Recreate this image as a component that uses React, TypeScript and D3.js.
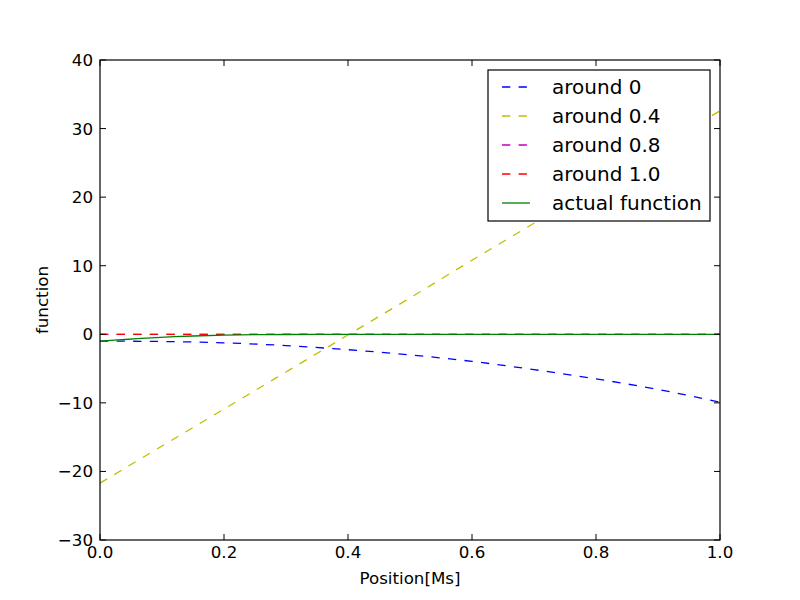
import { useEffect, useRef } from 'react';
import * as d3 from 'd3';

// sample positions for the Taylor curves
const xs = [0, 0.1, 0.2, 0.3, 0.4, 0.5, 0.6, 0.7, 0.8, 0.9, 1.0];
const around0 = [-1.0, -1.05, -1.25, -1.65, -2.25, -3.0, -3.95, -5.15, -6.5, -8.05, -9.9];
const around04 = [-21.7, -16.3, -10.9, -5.5, -0.1, 5.3, 10.8, 16.2, 21.6, 27.1, 32.6];
const around08 = [0, 0, 0, 0, 0, 0, 0, 0, 0, 0, 0];
const around10 = [0, 0, 0, 0, 0, 0, 0, 0, 0, 0, 0];

// the actual function is sampled more densely near the left edge
const actualX = [0, 0.03, 0.06, 0.09, 0.12, 0.15, 0.2, 0.25, 0.3, 0.4, 0.5, 0.6, 0.7, 0.8, 0.9, 1.0];
const actualY = [-1.0, -0.82, -0.64, -0.48, -0.35, -0.25, -0.13, -0.06, -0.03, -0.01, 0, 0, 0, 0, 0, 0];

const xTicks = [0, 0.2, 0.4, 0.6, 0.8, 1.0];
const yTicks = [-30, -20, -10, 0, 10, 20, 30, 40];

type Series = { label: string; color: string; dashed: boolean; x: number[]; y: number[] };

const series: Series[] = [
  { label: 'around 0', color: '#0000ff', dashed: true, x: xs, y: around0 },
  { label: 'around 0.4', color: '#bfbf00', dashed: true, x: xs, y: around04 },
  { label: 'around 0.8', color: '#bf00bf', dashed: true, x: xs, y: around08 },
  { label: 'around 1.0', color: '#ff0000', dashed: true, x: xs, y: around10 },
  { label: 'actual function', color: '#008000', dashed: false, x: actualX, y: actualY },
];

const FONT = '"DejaVu Sans", sans-serif';
const minus = (s: string) => s.replace('-', '\u2212');

export default function App() {
  const svgRef = useRef<SVGSVGElement | null>(null);

  useEffect(() => {
    if (!svgRef.current) return;
    const svg = d3.select(svgRef.current);
    svg.selectAll('*').remove();

    const W = 800;
    const H = 600;
    const margin = { top: 60, right: 80, bottom: 60, left: 100 };
    const iw = W - margin.left - margin.right;
    const ih = H - margin.top - margin.bottom;

    svg.attr('width', W).attr('height', H).style('background', '#fff');

    const xScale = d3.scaleLinear().domain([0, 1]).range([0, iw]);
    const yScale = d3.scaleLinear().domain([-30, 40]).range([ih, 0]);

    const g = svg.append('g').attr('transform', `translate(${margin.left},${margin.top})`);

    const defs = svg.append('defs');
    defs.append('clipPath').attr('id', 'plot-clip')
      .append('rect').attr('width', iw).attr('height', ih);

    // Lines
    const plot = g.append('g').attr('clip-path', 'url(#plot-clip)');
    series.forEach((s) => {
      const pts = s.x.map((x, i) => [x, s.y[i]] as [number, number]);
      const lineGen = d3.line<[number, number]>()
        .x((d) => xScale(d[0]))
        .y((d) => yScale(d[1]))
        .curve(d3.curveMonotoneX);
      plot.append('path')
        .datum(pts)
        .attr('fill', 'none')
        .attr('stroke', s.color)
        .attr('stroke-width', 1.3)
        .attr('stroke-dasharray', s.dashed ? '8.3,8.3' : null)
        .attr('d', lineGen);
    });

    // Ticks on all four sides, pointing inward
    const tickLen = 6;
    xTicks.forEach((t) => {
      const x = xScale(t);
      g.append('line').attr('x1', x).attr('x2', x).attr('y1', ih).attr('y2', ih - tickLen)
        .attr('stroke', '#000').attr('stroke-width', 1);
      g.append('line').attr('x1', x).attr('x2', x).attr('y1', 0).attr('y2', tickLen)
        .attr('stroke', '#000').attr('stroke-width', 1);
      g.append('text').attr('x', x).attr('y', ih + 12)
        .attr('text-anchor', 'middle').attr('dominant-baseline', 'central')
        .style('font-family', FONT).style('font-size', '16.7px').attr('fill', '#000')
        .text(t.toFixed(1));
    });
    yTicks.forEach((t) => {
      const y = yScale(t);
      g.append('line').attr('x1', 0).attr('x2', tickLen).attr('y1', y).attr('y2', y)
        .attr('stroke', '#000').attr('stroke-width', 1);
      g.append('line').attr('x1', iw).attr('x2', iw - tickLen).attr('y1', y).attr('y2', y)
        .attr('stroke', '#000').attr('stroke-width', 1);
      g.append('text').attr('x', -7).attr('y', y)
        .attr('text-anchor', 'end').attr('dominant-baseline', 'central')
        .style('font-family', FONT).style('font-size', '16.7px').attr('fill', '#000')
        .text(minus(String(t)));
    });

    // Frame
    g.append('rect').attr('width', iw).attr('height', ih)
      .attr('fill', 'none').attr('stroke', '#000').attr('stroke-width', 1.2);

    // Axis labels
    g.append('text').attr('x', iw / 2).attr('y', ih + 38)
      .attr('text-anchor', 'middle').attr('dominant-baseline', 'central')
      .style('font-family', FONT).style('font-size', '16.7px').attr('fill', '#000')
      .text('Position[Ms]');
    g.append('text')
      .attr('transform', `translate(${-58},${ih / 2}) rotate(-90)`)
      .attr('text-anchor', 'middle').attr('dominant-baseline', 'central')
      .style('font-family', FONT).style('font-size', '16.7px').attr('fill', '#000')
      .text('function');

    // Legend
    const lg = svg.append('g').attr('transform', 'translate(488,70)');
    lg.append('rect').attr('width', 222).attr('height', 151)
      .attr('fill', '#fff').attr('stroke', '#000').attr('stroke-width', 1.2);
    series.forEach((s, i) => {
      const y = 17 + i * 29;
      lg.append('line').attr('x1', 14).attr('x2', 42).attr('y1', y).attr('y2', y)
        .attr('stroke', s.color).attr('stroke-width', 1.3)
        .attr('stroke-dasharray', s.dashed ? '8.3,8.3' : null);
      lg.append('text').attr('x', 64).attr('y', y)
        .attr('dominant-baseline', 'central')
        .style('font-family', FONT).style('font-size', '20px').attr('fill', '#000')
        .text(s.label);
    });
  }, []);

  return (
    <div style={{ position: 'absolute', left: 0, top: 0, width: 800, height: 600, background: '#fff' }}>
      <svg ref={svgRef} />
    </div>
  );
}
